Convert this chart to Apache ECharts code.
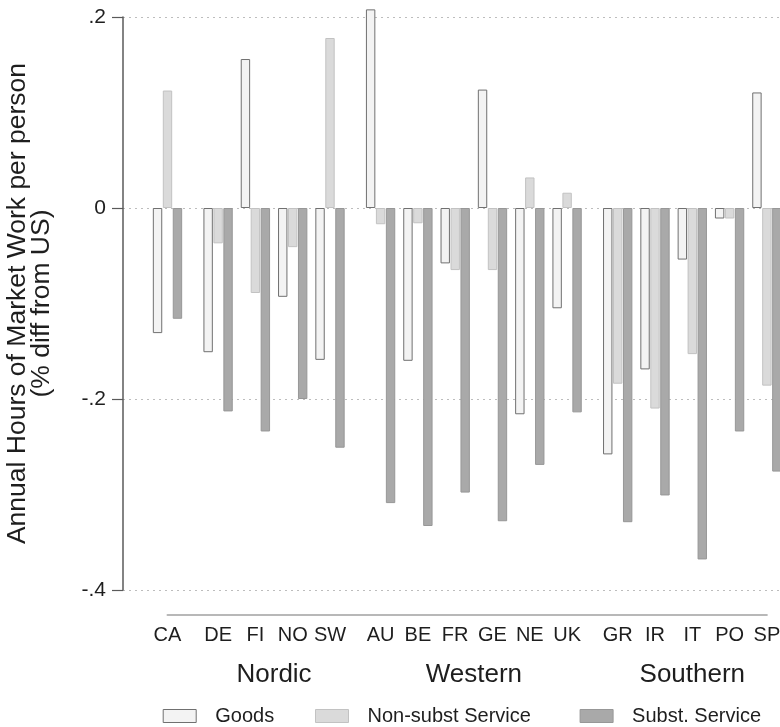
<!DOCTYPE html>
<html><head><meta charset="utf-8">
<script src="https://cdn.jsdelivr.net/npm/echarts@6/dist/echarts.min.js"></script>
<style>html,body{margin:0;padding:0;background:#fff}#c{width:780px;height:727px}</style>
</head><body><div id="c"></div>
<script>
// ---- data ----
const countries = ['CA','DE','FI','NO','SW','AU','BE','FR','GE','NE','UK','GR','IR','IT','PO','SP'];
const groupNames = ['', 'Nordic', 'Western', 'Southern'];
const groupSizes = [1, 4, 6, 5];
const seriesNames = ['Goods', 'Non-subst Service', 'Subst. Service'];
const goods    = [-0.131,-0.151, 0.156,-0.093,-0.159, 0.208,-0.160,-0.058, 0.124,-0.216,-0.105,-0.258,-0.169,-0.054,-0.011, 0.121];
const nonSubst = [ 0.123,-0.037,-0.089,-0.041, 0.178,-0.017,-0.016,-0.065,-0.065, 0.032, 0.016,-0.184,-0.210,-0.153,-0.011,-0.186];
const subst    = [-0.116,-0.213,-0.234,-0.200,-0.251,-0.309,-0.333,-0.298,-0.328,-0.269,-0.214,-0.329,-0.301,-0.368,-0.234,-0.276];
const yTickLabels = ['.2', '0', '-.2', '-.4'];
const yTitle = 'Annual Hours of Market Work per person\n(% diff from US)';

// ---- layout / style ----
const FONT = "'Liberation Sans', Arial, Helvetica, sans-serif";
const TXT = '#1e1e1e';
const plotLeft = 123, plotTop = 17, plotHeight = 573;
const slot = 37.3, groupGap = 13.3, firstCenter = 167.5;
const yMin = -0.4, yMax = 0.2, yStep = 0.2;
const styles = [
  { color: '#f3f3f3', borderColor: '#707070', borderWidth: 1 },
  { color: '#dadada', borderColor: '#c2c2c2', borderWidth: 1 },
  { color: '#a9a9a9', borderColor: '#979797', borderWidth: 1 }
];
const seriesData = [goods, nonSubst, subst];

const grids = [{ left: plotLeft, right: 0, top: plotTop, height: plotHeight, outerBoundsMode: 'none' }];
const xAxes = [{ gridIndex: 0, type: 'value', show: false, min: 0, max: 1 }];
const yAxes = [{
  gridIndex: 0, type: 'value', min: yMin, max: yMax, interval: yStep,
  axisLine: { show: true, lineStyle: { color: '#5a5a5a', width: 1.5 } },
  axisTick: { show: true, length: 11, lineStyle: { color: '#5a5a5a', width: 1.2 } },
  axisLabel: {
    margin: 17, fontSize: 21, color: TXT, fontFamily: FONT,
    formatter: v => yTickLabels[Math.round((yMax - v) / yStep)]
  },
  splitLine: { show: true, lineStyle: { type: [2, 4], color: '#bdbdbd', width: 1 } },
  name: yTitle, nameLocation: 'middle', nameRotate: 90, nameGap: 69,
  nameTextStyle: { fontSize: 26.5, lineHeight: 24, color: TXT, fontFamily: FONT, align: 'center' }
}];
const series = [];

let start = 0;
groupSizes.forEach((size, k) => {
  const gi = k + 1;
  grids.push({
    left: firstCenter - slot / 2 + start * slot + k * groupGap,
    width: size * slot, top: plotTop, height: plotHeight, outerBoundsMode: 'none'
  });
  xAxes.push({
    gridIndex: gi, type: 'category', data: countries.slice(start, start + size),
    axisLine: { show: false, onZero: false }, axisTick: { show: false },
    axisLabel: { margin: 35, fontSize: 20, color: TXT, fontFamily: FONT, interval: 0 },
    name: groupNames[k], nameLocation: 'middle', nameGap: 72,
    nameTextStyle: { fontSize: 26, color: TXT, fontFamily: FONT }
  });
  yAxes.push({ gridIndex: gi, type: 'value', min: yMin, max: yMax, show: false, splitLine: { show: false } });
  seriesNames.forEach((nm, s) => {
    series.push({
      type: 'bar', name: nm, xAxisIndex: gi, yAxisIndex: gi,
      data: seriesData[s].slice(start, start + size),
      barWidth: 9.4, barGap: '6%', clip: false, itemStyle: styles[s], silent: true
    });
  });
  start += size;
});

// category axis line spanning first to last country centre
const lastCenter = firstCenter + (countries.length - 1) * slot + (groupSizes.length - 1) * groupGap;
grids.push({ left: firstCenter, width: lastCenter - firstCenter, top: plotTop, height: plotHeight, outerBoundsMode: 'none' });
xAxes.push({
  gridIndex: grids.length - 1, type: 'value', min: 0, max: 1, offset: 25,
  axisLine: { show: true, onZero: false, lineStyle: { color: '#b8b8b8', width: 2 } },
  axisTick: { show: false }, axisLabel: { show: false }, splitLine: { show: false }
});
yAxes.push({ gridIndex: grids.length - 1, type: 'value', show: false });

const legendLefts = [162.7, 315, 579.6];
const legends = seriesNames.map((nm, i) => ({
  data: [nm], left: legendLefts[i], top: 706, padding: 0,
  icon: 'rect', itemWidth: 33, itemHeight: 13,
  itemStyle: { borderWidth: 1 },
  textStyle: { fontSize: 20, color: TXT, fontFamily: FONT, padding: [0, 0, 0, 14] },
  selectedMode: false
}));

const chart = echarts.init(document.getElementById('c'), null, { renderer: 'canvas' });
chart.setOption({
  animation: false,
  backgroundColor: '#ffffff',
  textStyle: { fontFamily: FONT },
  grid: grids, xAxis: xAxes, yAxis: yAxes, legend: legends, series: series
});
</script>
</body></html>
